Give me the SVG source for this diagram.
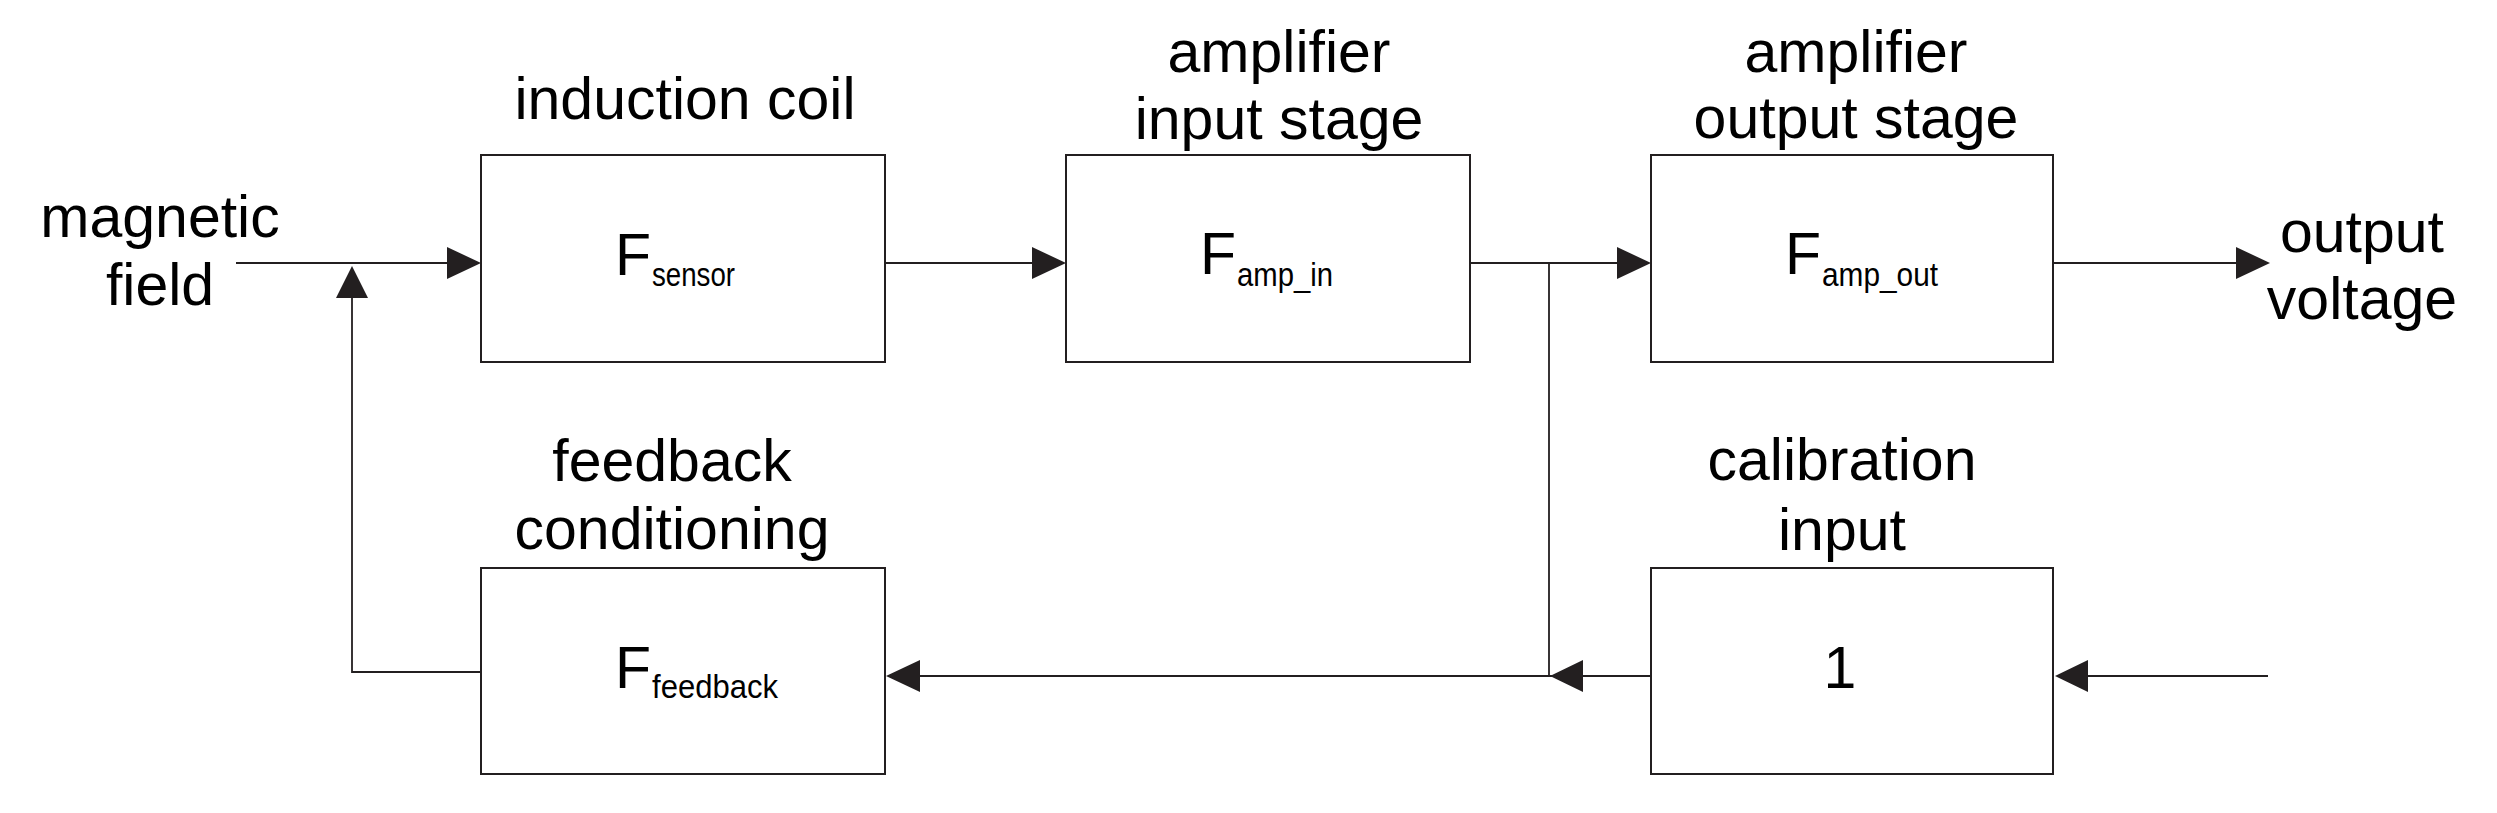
<svg xmlns="http://www.w3.org/2000/svg" width="2497" height="813" viewBox="0 0 2497 813">
<style>
.box{fill:#fff;stroke:#231f20;stroke-width:2}
.ln{fill:none;stroke:#231f20;stroke-width:1.8}
.ah{fill:#231f20}
.lbl{font-family:"Liberation Sans",Arial,sans-serif;font-size:59px;fill:#000;text-anchor:middle}
.f{font-family:"Liberation Sans",Arial,sans-serif;font-size:59px;fill:#000}
.sub{font-family:"Liberation Sans",Arial,sans-serif;font-size:33px;fill:#000}
</style>
<rect width="2497" height="813" fill="#fff"/>
<g id="connectors">
<path class="ln" d="M236 263H447"/>
<path class="ln" d="M885 263H1032"/>
<path class="ln" d="M1470 263H1617"/>
<path class="ln" d="M2053 263H2236"/>
<path class="ln" d="M1549 263V676"/>
<path class="ln" d="M1651 676H920"/>
<path class="ln" d="M2268 676H2088"/>
<path class="ln" d="M481 672H352V298"/>
<polygon class="ah" points="447,247 481,263 447,279"/>
<polygon class="ah" points="1032,247 1066,263 1032,279"/>
<polygon class="ah" points="1617,247 1651,263 1617,279"/>
<polygon class="ah" points="2236,247 2270,263 2236,279"/>
<polygon class="ah" points="336,298 352,266 368,298"/>
<polygon class="ah" points="1583,660 1550,676 1583,692"/>
<polygon class="ah" points="920,660 886,676 920,692"/>
<polygon class="ah" points="2088,660 2055,676 2088,692"/>
</g>
<g id="magnetic-field">
<text class="lbl" x="160" y="237">magnetic</text>
<text class="lbl" x="160" y="305">field</text>
</g>
<g id="output-voltage">
<text class="lbl" x="2362" y="252">output</text>
<text class="lbl" x="2362" y="319">voltage</text>
</g>
<g id="induction-coil">
<rect class="box" x="481" y="155" width="404" height="207"/>
<text class="lbl" x="685" y="119">induction coil</text>
<text class="f" x="615" y="275">F</text>
<text class="sub" x="652" y="286" textLength="83" lengthAdjust="spacingAndGlyphs">sensor</text>
</g>
<g id="amp-input">
<rect class="box" x="1066" y="155" width="404" height="207"/>
<text class="lbl" x="1279" y="72">amplifier</text>
<text class="lbl" x="1279" y="139">input stage</text>
<text class="f" x="1200" y="274">F</text>
<text class="sub" x="1237" y="286" textLength="96" lengthAdjust="spacingAndGlyphs">amp_in</text>
</g>
<g id="amp-output">
<rect class="box" x="1651" y="155" width="402" height="207"/>
<text class="lbl" x="1856" y="72">amplifier</text>
<text class="lbl" x="1856" y="138">output stage</text>
<text class="f" x="1785" y="274">F</text>
<text class="sub" x="1822" y="286" textLength="116" lengthAdjust="spacingAndGlyphs">amp_out</text>
</g>
<g id="feedback-conditioning">
<rect class="box" x="481" y="568" width="404" height="206"/>
<text class="lbl" x="672" y="481">feedback</text>
<text class="lbl" x="672" y="549">conditioning</text>
<text class="f" x="615" y="688">F</text>
<text class="sub" x="652" y="698" textLength="126" lengthAdjust="spacingAndGlyphs">feedback</text>
</g>
<g id="calibration-input">
<rect class="box" x="1651" y="568" width="402" height="206"/>
<text class="lbl" x="1842" y="480">calibration</text>
<text class="lbl" x="1842" y="550">input</text>
<text class="f" x="1840" y="688" text-anchor="middle">1</text>
</g>
</svg>
